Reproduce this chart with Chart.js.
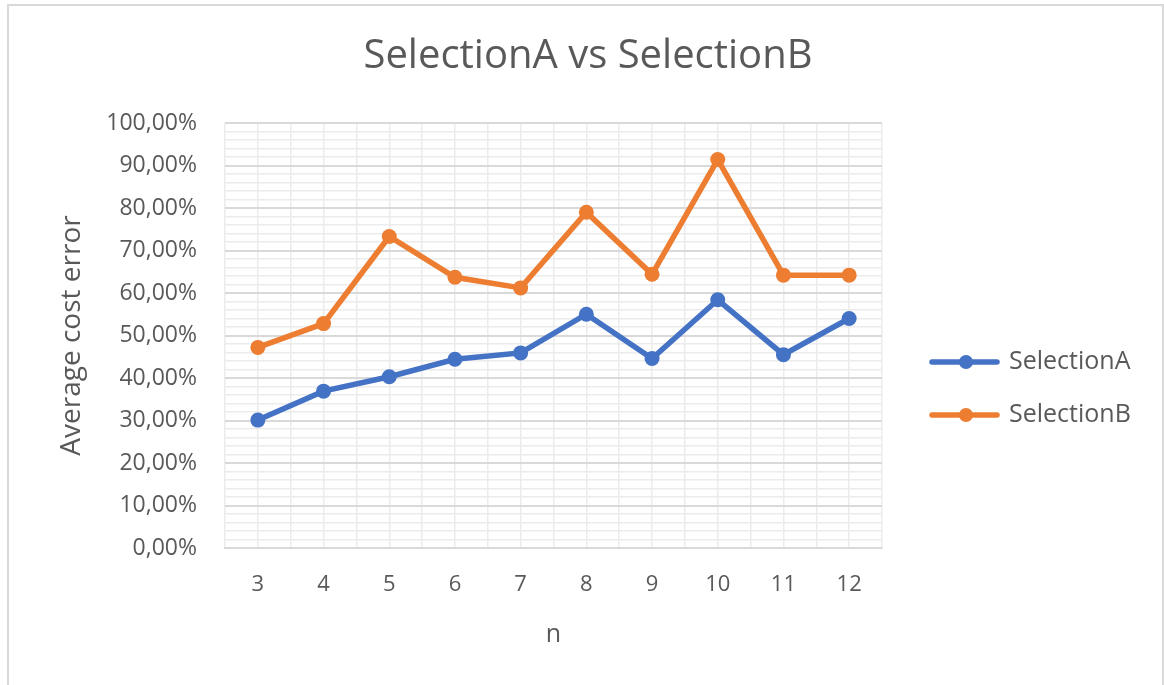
<!DOCTYPE html>
<html>
<head>
<meta charset="utf-8">
<script src="https://cdn.jsdelivr.net/npm/chart.js@4.4.1/dist/chart.umd.min.js"></script>
<style>
html,body{margin:0;padding:0;background:#fff;}
#wrap{width:1164px;height:685px;position:relative;}
</style>
</head>
<body>
<div id="wrap"><canvas id="c" width="1164" height="685"></canvas></div>
<script>
const categories = [3, 4, 5, 6, 7, 8, 9, 10, 11, 12];
const selectionA = [30.1, 36.9, 40.3, 44.4, 45.9, 55.0, 44.6, 58.4, 45.5, 54.0];
const selectionB = [47.2, 52.8, 73.3, 63.7, 61.2, 79.0, 64.4, 91.4, 64.2, 64.2];
const seriesNames = ['SelectionA', 'SelectionB'];
const chartTitle = 'SelectionA vs SelectionB';
const xTitle = 'n';
const yTitle = 'Average cost error';

const FONT = "'Open Sans', sans-serif";
const TXT = '#595959';
const colors = ['#4472C4', '#ED7D31'];

const toPoints = arr => arr.map((v, i) => ({x: categories[i], y: v}));

const decor = {
  id: 'decor',
  beforeDraw(chart) {
    const ctx = chart.ctx;
    ctx.save();
    ctx.fillStyle = '#fff';
    ctx.fillRect(0, 0, chart.width, chart.height);
    ctx.strokeStyle = '#d9d9d9';
    ctx.lineWidth = 2;
    ctx.beginPath();
    ctx.moveTo(8, 700); ctx.lineTo(8, 5); ctx.lineTo(1163, 5); ctx.lineTo(1163, 700);
    ctx.stroke();
    ctx.restore();
  },
  afterDraw(chart) {
    const ctx = chart.ctx;
    ctx.save();
    // title
    ctx.fillStyle = TXT;
    ctx.font = "40px " + FONT;
    ctx.textAlign = 'center';
    ctx.textBaseline = 'middle';
    ctx.fillText(chartTitle, 588, 57);
    // legend
    ctx.font = "25px " + FONT;
    ctx.textAlign = 'left';
    const ys = [362, 415];
    chart.data.datasets.forEach((ds, i) => {
      const y = ys[i];
      ctx.strokeStyle = ds.borderColor;
      ctx.lineWidth = 5.5;
      ctx.lineCap = 'round';
      ctx.beginPath();
      ctx.moveTo(932, y); ctx.lineTo(997, y);
      ctx.stroke();
      ctx.fillStyle = ds.borderColor;
      ctx.beginPath();
      ctx.arc(966, y, 7, 0, Math.PI * 2);
      ctx.fill();
      ctx.fillStyle = TXT;
      ctx.fillText(ds.label, 1009, y);
    });
    ctx.restore();
  }
};

new Chart(document.getElementById('c'), {
  type: 'line',
  data: {
    datasets: [
      {label: seriesNames[0], data: toPoints(selectionA), borderColor: colors[0], backgroundColor: colors[0],
       borderWidth: 5.5, pointRadius: 7.5, pointBorderWidth: 0, pointBackgroundColor: colors[0], tension: 0},
      {label: seriesNames[1], data: toPoints(selectionB), borderColor: colors[1], backgroundColor: colors[1],
       borderWidth: 5.5, pointRadius: 7.5, pointBorderWidth: 0, pointBackgroundColor: colors[1], tension: 0}
    ]
  },
  options: {
    responsive: false,
    animation: false,
    devicePixelRatio: 1,
    layout: {padding: {left: 0, top: 123, right: 282, bottom: 0}},
    plugins: {legend: {display: false}, title: {display: false}, tooltip: {enabled: false}},
    scales: {
      x: {
        type: 'linear',
        min: 2.5, max: 12.5,
        afterBuildTicks(scale) {
          const t = [];
          for (let k = 0; k <= 20; k++) t.push({value: 2.5 + k * 0.5});
          scale.ticks = t;
        },
        afterFit(scale) { scale.height = 685 - 548; },
        grid: {color: '#ececec', lineWidth: 1.5, drawTicks: false},
        border: {display: true, color: '#d9d9d9', width: 2},
        ticks: {
          autoSkip: false, maxRotation: 0, padding: 24,
          color: TXT, font: {family: FONT, size: 22},
          callback: v => (Number.isInteger(v) && categories.includes(v)) ? String(v) : ''
        },
        title: {display: true, text: xTitle, color: TXT, font: {family: FONT, size: 25}, padding: {top: 0, bottom: 35}}
      },
      y: {
        min: 0, max: 100,
        afterBuildTicks(scale) {
          const t = [];
          for (let k = 0; k <= 50; k++) t.push({value: k * 2});
          scale.ticks = t;
        },
        afterFit(scale) { scale.width = 225; },
        grid: {
          drawTicks: false,
          color: c => (c.tick && c.tick.value % 10 === 0) ? '#d9d9d9' : '#ececec',
          lineWidth: c => (c.tick && c.tick.value % 10 === 0) ? 2 : 1.5
        },
        border: {display: false},
        ticks: {
          autoSkip: false, padding: 28, color: TXT, font: {family: FONT, size: 23},
          callback: v => (v % 10 === 0) ? v.toFixed(2).replace('.', ',') + '%' : ''
        },
        title: {display: true, text: yTitle, color: TXT, font: {family: FONT, size: 28}, padding: {top: 55}}
      }
    }
  },
  plugins: [decor]
});
</script>
</body>
</html>
